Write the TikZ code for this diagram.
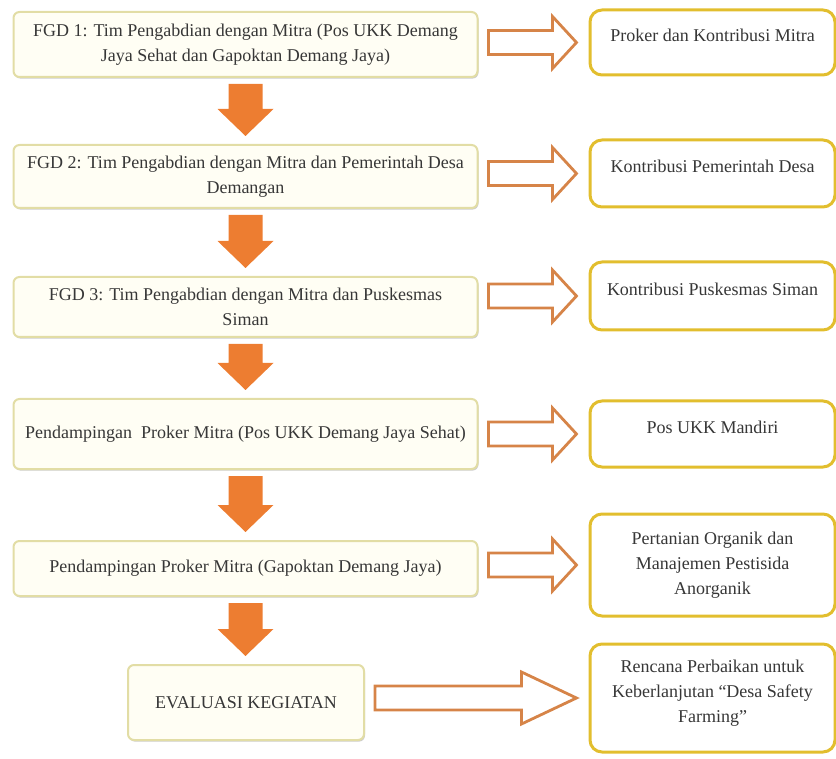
\documentclass[tikz,border=0pt]{standalone}
\usepackage{fontspec}
\setmainfont{Liberation Serif}
\usetikzlibrary{calc,shadows}

\definecolor{boxline}{RGB}{226,221,165}
\definecolor{boxfill}{RGB}{255,254,244}
\definecolor{goldline}{RGB}{226,190,46}
\definecolor{arrowfill}{RGB}{237,125,49}
\definecolor{hollowline}{RGB}{214,132,72}
\definecolor{ink}{RGB}{55,55,55}

\begin{document}
\begin{tikzpicture}[x=0.5pt,y=-0.5pt,font=\fontsize{9}{12.5}\selectfont,text=ink,
    flow box/.style={draw=boxline,fill=boxfill,line width=1pt,rounded corners=3pt,
      align=center,minimum width=232pt,inner sep=2pt,
      drop shadow={shadow xshift=0.5pt,shadow yshift=-0.8pt,opacity=0.2,fill=black}},
    result box/.style={draw=goldline,fill=white,line width=1.5pt,rounded corners=6pt,
      align=center,minimum width=122.5pt,inner sep=2pt},
    down arrow/.style={draw=none,fill=arrowfill,to path={let \p1=(\tikztostart.south),\p2=(\tikztotarget.north) in
      (\x1-8.5pt,\y1-3pt) -- (\x1-8.5pt,\y2+17.5pt) -- (\x1-14pt,\y2+17.5pt) -- (\x1,\y2+4pt)
      -- (\x1+14pt,\y2+17.5pt) -- (\x1+8.5pt,\y2+17.5pt) -- (\x1+8.5pt,\y1-3pt) -- cycle}},
    hollow arrow/.style={draw=hollowline,fill=white,line width=1.4pt,to path={let \p1=(\tikztostart.east),\p2=(\tikztotarget.west) in
      (\x1+5pt,\y2+6pt) -- (\x2-#1,\y2+6pt) -- (\x2-#1,\y2+13pt) -- (\x2-6pt,\y2)
      -- (\x2-#1,\y2-13pt) -- (\x2-#1,\y2-6pt) -- (\x1+5pt,\y2-6pt) -- cycle}},
    hollow arrow/.default=18pt]

  \useasboundingbox (0,0) rectangle (836,759);

  % kegiatan (kolom kiri)
  \node[flow box,minimum height=32.5pt] (1) at (245.5,44.5) {FGD 1: Tim Pengabdian dengan Mitra (Pos UKK Demang\\Jaya Sehat dan Gapoktan Demang Jaya)};
  \node[flow box,minimum height=31.5pt] (2) at (245.5,176.5) {FGD 2: Tim Pengabdian dengan Mitra dan Pemerintah Desa\\Demangan};
  \node[flow box,minimum height=30pt] (3) at (245.5,307) {FGD 3: Tim Pengabdian dengan Mitra dan Puskesmas\\Siman};
  \node[flow box,minimum height=35pt] (4) at (245.5,434) {Pendampingan\ \ Proker Mitra (Pos UKK Demang Jaya Sehat)};
  \node[flow box,minimum height=27.5pt] (5) at (245.5,568.5) {Pendampingan Proker Mitra (Gapoktan Demang Jaya)};
  \node[flow box,minimum height=37.5pt,minimum width=118pt] (6) at (246,702.5) {EVALUASI KEGIATAN};

  % hasil (kolom kanan)
  \node[result box,minimum height=32.5pt,text depth=7pt] (7) at (712.5,42.5) {Proker dan Kontribusi Mitra};
  \node[result box,minimum height=33.5pt,text depth=7pt] (8) at (712.5,173.5) {Kontribusi Pemerintah Desa};
  \node[result box,minimum height=34pt,text depth=7pt] (9) at (712.5,296) {Kontribusi Puskesmas Siman};
  \node[result box,minimum height=33pt,text depth=7pt] (10) at (712.5,434) {Pos UKK Mandiri};
  \node[result box,minimum height=51pt] (11) at (712.5,565) {Pertanian Organik dan\\Manajemen Pestisida\\Anorganik};
  \node[result box,minimum height=54pt] (12) at (712.5,698) {Rencana Perbaikan untuk\\Keberlanjutan “Desa Safety\\Farming”\rule[-7pt]{0pt}{7pt}};

  \path
    (1) edge[down arrow] (2)
    (2) edge[down arrow] (3)
    (3) edge[down arrow] (4)
    (4) edge[down arrow] (5)
    (5) edge[down arrow] (6);

  \path
    (1) edge[hollow arrow] (7)
    (2) edge[hollow arrow] (8)
    (3) edge[hollow arrow] (9)
    (4) edge[hollow arrow] (10)
    (5) edge[hollow arrow] (11)
    (6) edge[hollow arrow=33.5pt] (12);
\end{tikzpicture}
\end{document}
